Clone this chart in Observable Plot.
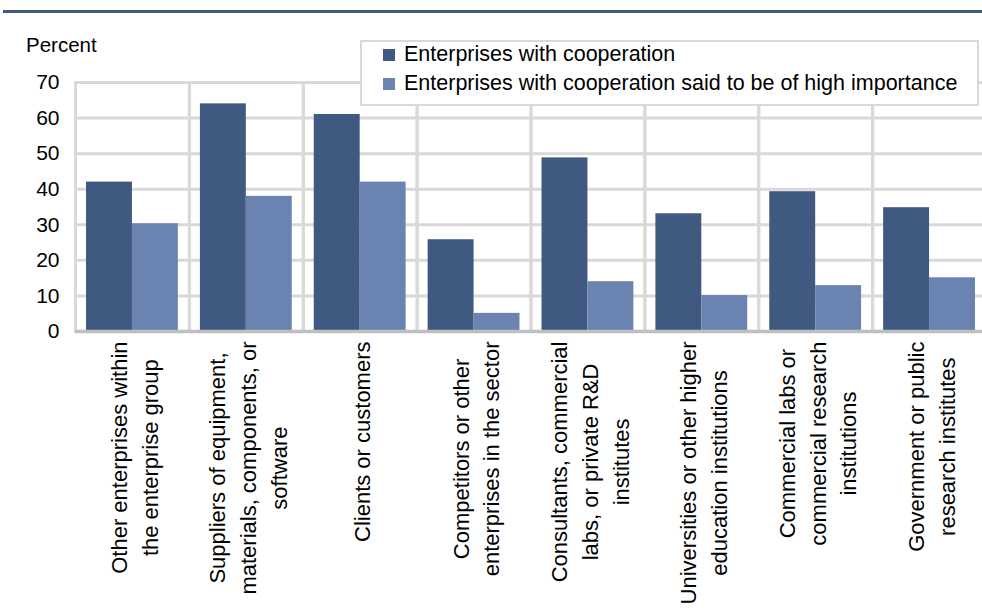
<!DOCTYPE html>
<html>
<head>
<meta charset="utf-8">
<script src="https://cdn.jsdelivr.net/npm/d3@7"></script>
<script src="https://cdn.jsdelivr.net/npm/@observablehq/plot@0.6"></script>
<style>
  html, body { margin: 0; padding: 0; background: #fff; }
  #wrap { position: relative; width: 982px; height: 610px; overflow: hidden; font-family: "Liberation Sans", Arial, sans-serif; }
  #topline { position: absolute; left: 3px; right: 0; top: 10px; height: 3px; background: #3f5b87; }
  #ylab { position: absolute; left: 26px; top: 35px; font-size: 20.5px; line-height: 20px; color: #000; }
  #legend { position: absolute; left: 360px; top: 40px; width: 615px; height: 62px; border: 2px solid #d9d9d9; background: #fff; }
  .lrow { position: absolute; left: 21px; font-size: 21.5px; line-height: 20px; color: #000; white-space: nowrap; }
  .lrow span.sw { position: absolute; left: 0; top: 5px; width: 12px; height: 12px; }
  .lrow span.tx { position: absolute; left: 21px; top: 0; }
</style>
</head>
<body>
<div id="wrap">
  <div id="chart"></div>
  <div id="topline"></div>
  <div id="ylab">Percent</div>
  <div id="legend"></div>
</div>
<script>
const categories = [
  "Other enterprises within\nthe enterprise group",
  "Suppliers of equipment,\nmaterials, components, or\nsoftware",
  "Clients or customers",
  "Competitors or other\nenterprises in the sector",
  "Consultants, commercial\nlabs, or private R&D\ninstitutes",
  "Universities or other higher\neducation institutions",
  "Commercial labs or\ncommercial research\ninstitutions",
  "Government or public\nresearch institutes"
];
const seriesNames = [
  "Enterprises with cooperation",
  "Enterprises with cooperation said to be of high importance"
];
const withCooperation = [42, 64, 61, 25.8, 48.8, 33.1, 39.3, 34.8];
const highImportance = [30.3, 38, 42, 5.1, 14, 10.1, 12.9, 15.1];
const yTicks = [0, 10, 20, 30, 40, 50, 60, 70];
const colors = ["#3f5980", "#6b83b0"];

const data = [];
categories.forEach((c, i) => {
  data.push({category: c, series: seriesNames[0], value: withCooperation[i]});
  data.push({category: c, series: seriesNames[1], value: highImportance[i]});
});

const labelFont = 22;
const ctx = document.createElement("canvas").getContext("2d");
ctx.font = labelFont + "px 'Liberation Sans', Arial, sans-serif";
const maxW = categories.map(c => Math.max(...c.split("\n").map(l => ctx.measureText(l).width)));

const labelMarks = categories.map((c, i) =>
  Plot.text([c], {
    fx: d => d,
    text: d => d,
    frameAnchor: "bottom",
    rotate: -90,
    textAnchor: "middle",
    lineAnchor: "middle",
    lineHeight: 1.4,
    fontSize: labelFont,
    fill: "#000",
    dy: 10 + maxW[i] / 2
  })
);

const chart = Plot.plot({
  width: 982,
  height: 610,
  marginLeft: 75,
  marginRight: -4,
  marginTop: 82,
  marginBottom: 279,
  style: {fontFamily: "'Liberation Sans', Arial, sans-serif", fontSize: "21px", color: "#000", background: "transparent"},
  fx: {domain: categories, paddingInner: 0, paddingOuter: 0, round: false, range: [75, 986], axis: null},
  x: {domain: seriesNames, paddingInner: 0, paddingOuter: 0.24, round: false, axis: null},
  y: {domain: [0, 70], axis: null},
  color: {domain: seriesNames, range: colors},
  marks: [
    Plot.gridY({ticks: yTicks.slice(1, -1), stroke: "#d9d9d9", strokeWidth: 3, strokeOpacity: 1}),
    Plot.frame({stroke: "#d9d9d9", strokeWidth: 3}),
    Plot.barY(data, {fx: "category", x: "series", y: "value", fill: "series", inset: 0}),
    Plot.ruleY([0], {stroke: "#bfbfbf", strokeWidth: 3.5}),
    Plot.axisY({ticks: yTicks, tickSize: 0, tickPadding: 16, fontSize: 21, label: null}),
    ...labelMarks
  ]
});
document.getElementById("chart").appendChild(chart);

const legend = document.getElementById("legend");
seriesNames.forEach((s, i) => {
  const row = document.createElement("div");
  row.className = "lrow";
  row.style.top = (i === 0 ? 2 : 31) + "px";
  const sw = document.createElement("span");
  sw.className = "sw";
  sw.style.background = colors[i];
  const tx = document.createElement("span");
  tx.className = "tx";
  tx.textContent = s;
  row.appendChild(sw);
  row.appendChild(tx);
  legend.appendChild(row);
});
</script>
</body>
</html>
